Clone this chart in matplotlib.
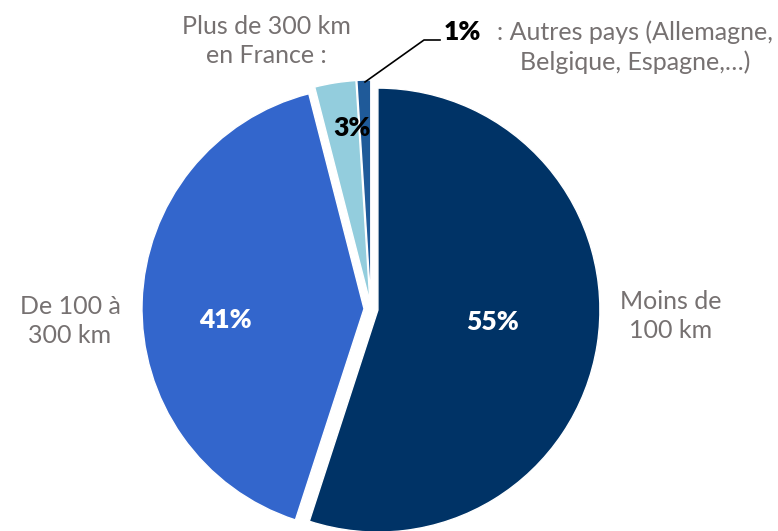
import matplotlib
matplotlib.use('Agg')
import matplotlib.pyplot as plt

plt.rcParams['font.family'] = ['Lato', 'DejaVu Sans']

# données
parts = [55, 41, 3, 1]
pct_labels = ['55%', '41%', '3%', '1%']
colors = ['#003366', '#3366CC', '#93CDDD', '#1F5A99']
gray = '#767171'

W, H = 778, 531
fig = plt.figure(figsize=(W / 100, H / 100), dpi=100)
ax = fig.add_axes([0, 0, 1, 1])

def Y(y):  # coordonnées image -> axe
    return H - y

# explode en unités absolues (pixels ici)
ax.pie(parts, colors=colors, startangle=90, counterclock=False,
       center=(371, Y(309)), radius=222, explode=[7, 7, 7, 7],
       wedgeprops=dict(edgecolor='white', linewidth=1), frame=True)
ax.set_xlim(0, W)
ax.set_ylim(0, H)
ax.set_aspect('equal')
ax.axis('off')

# pourcentages
pfs = 19
ax.text(493, Y(322), pct_labels[0], color='white', fontsize=pfs, fontweight='heavy', ha='center', va='center')
ax.text(225, Y(320), pct_labels[1], color='white', fontsize=pfs, fontweight='heavy', ha='center', va='center')
ax.text(352, Y(128), pct_labels[2], color='black', fontsize=pfs, fontweight='heavy', ha='center', va='center')
ax.text(462, Y(32), pct_labels[3], color='black', fontsize=pfs, fontweight='heavy', ha='center', va='center')

# ligne de rappel
ax.plot([365, 424, 440], [Y(82), Y(40), Y(40)], color='black', lw=1.2)

# libellés
fs = 18
ax.text(266, Y(41), 'Plus de 300 km\nen France :', color=gray, fontsize=fs, ha='center', va='center', linespacing=1.3)
ax.text(635, Y(47), ': Autres pays (Allemagne,\nBelgique, Espagne,…)', color=gray, fontsize=fs, ha='center', va='center', linespacing=1.3)
ax.text(70, Y(321), 'De 100 à\n300 km', color=gray, fontsize=fs, ha='center', va='center', linespacing=1.35)
ax.text(671, Y(316), 'Moins de\n100 km', color=gray, fontsize=fs, ha='center', va='center', linespacing=1.35)

fig.savefig('out.png', dpi=100)
